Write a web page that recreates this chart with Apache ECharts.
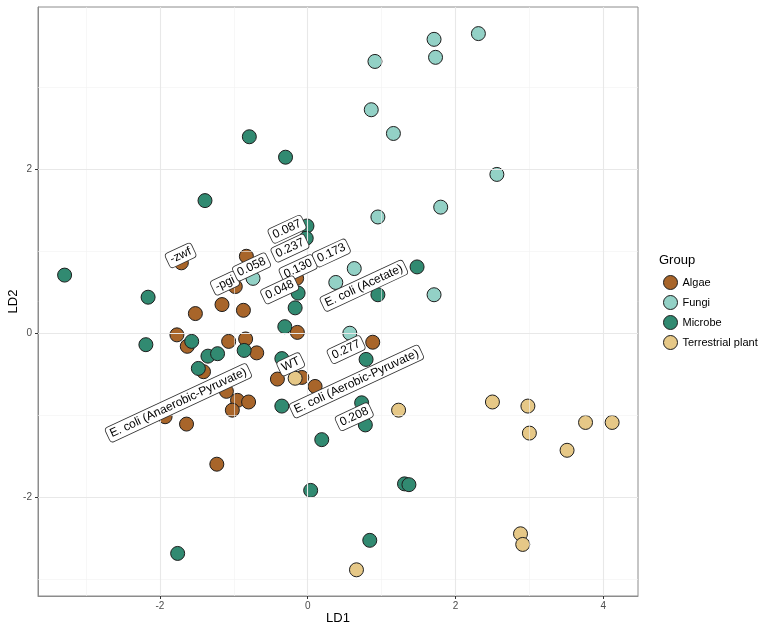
<!DOCTYPE html>
<html lang="en">
<head>
    <meta charset="UTF-8">
    <title>LDA</title>
    <script src="https://cdn.jsdelivr.net/npm/echarts@6/dist/echarts.min.js"></script>
    <style>
        html, body { margin: 0; padding: 0; background: #fff; }
    </style>
</head>
<body>
    <div id="app" style="width: 766px;height: 633px;"></div>
    <script>
        // axis ranges and ticks
        const xMin = -3.65, xMax = 4.47;
        const yMin = -3.21, yMax = 3.985;
        const xTicks = [-2, 0, 2, 4];
        const yTicks = [-2, 0, 2];
        const xMinor = [-3, -1, 1, 3];
        const yMinor = [-3, -1, 1, 3];

        // points per group [LD1, LD2]
        const algae = [
            [-1.71, 0.86], [-0.83, 0.94], [-0.98, 0.57], [-0.15, 0.67], [-1.16, 0.35],
            [-0.87, 0.28], [-1.52, 0.24], [-0.14, 0.01], [-1.77, -0.02], [-1.63, -0.16],
            [-1.07, -0.10], [-0.84, -0.07], [-0.69, -0.24], [-1.41, -0.47], [-0.41, -0.56],
            [-0.08, -0.54], [0.10, -0.65], [-1.10, -0.71], [-0.95, -0.82], [-0.80, -0.84],
            [-1.02, -0.94], [-1.93, -1.02], [-1.64, -1.11], [-1.23, -1.60], [0.88, -0.11]
        ];
        const fungi = [
            [-0.74, 0.67], [0.95, 1.42], [1.80, 1.54], [0.63, 0.79], [0.38, 0.62],
            [1.71, 0.47], [0.57, 0.00], [1.71, 3.59], [1.73, 3.37], [2.31, 3.66],
            [0.91, 3.32], [0.86, 2.73], [1.16, 2.44], [2.56, 1.94]
        ];
        const microbe = [
            [-0.30, 2.15], [-0.79, 2.40], [-1.39, 1.62], [-0.01, 1.31], [-0.02, 1.16],
            [-3.29, 0.71], [-0.13, 0.49], [-2.16, 0.44], [-0.17, 0.31], [-0.31, 0.08],
            [-2.19, -0.14], [-1.57, -0.10], [-0.86, -0.21], [-1.35, -0.28], [-1.22, -0.25],
            [-1.48, -0.43], [-0.35, -0.31], [-0.35, -0.89], [0.19, -1.30], [1.48, 0.81],
            [0.95, 0.47], [0.79, -0.32], [0.73, -0.85], [0.78, -1.12], [0.04, -1.92],
            [1.31, -1.84], [1.37, -1.85], [0.84, -2.53], [-1.76, -2.69]
        ];
        const terrestrial = [
            [-0.17, -0.55], [1.23, -0.94], [2.50, -0.84], [2.98, -0.89], [3.00, -1.22],
            [3.51, -1.43], [3.76, -1.09], [4.12, -1.09], [2.88, -2.45], [2.91, -2.58],
            [0.66, -2.89]
        ];

        // text labels
        const labelText = ['-zwf', '-pgi', '0.058', '0.087', '0.237', '0.130', '0.048', '0.173',
            'E. coli (Acetate)', '0.277', 'WT', 'E. coli (Aerobic-Pyruvate)', '0.208',
            'E. coli (Anaerobic-Pyruvate)'];
        const labelX = [-1.72, -1.12, -0.76, -0.28, -0.24, -0.13, -0.38, 0.32, 0.76, 0.52, -0.23, 0.66, 0.63, -1.75];
        const labelY = [0.95, 0.61, 0.81, 1.27, 1.04, 0.79, 0.53, 0.98, 0.58, -0.20, -0.38, -0.59, -1.02, -0.85];

        const groups = ['Algae', 'Fungi', 'Microbe', 'Terrestrial plant'];
        const colors = ['#a8652a', '#93d1c6', '#318a71', '#e6c887'];
        const groupData = [algae, fungi, microbe, terrestrial];

        const font = "'Liberation Sans', Arial, sans-serif";

        var myChart = echarts.init(document.getElementById('app'));

        // panel grid lines, major and minor
        const gridLines = [];
        xMinor.forEach(v => gridLines.push({ xAxis: v, lineStyle: { color: '#f2f2f2', width: 0.6, type: 'solid' } }));
        yMinor.forEach(v => gridLines.push({ yAxis: v, lineStyle: { color: '#f2f2f2', width: 0.6, type: 'solid' } }));
        xTicks.forEach(v => gridLines.push({ xAxis: v, lineStyle: { color: '#e8e8e8', width: 1.1, type: 'solid' } }));
        yTicks.forEach(v => gridLines.push({ yAxis: v, lineStyle: { color: '#e8e8e8', width: 1.1, type: 'solid' } }));

        const series = [
            {
                name: 'grid',
                type: 'scatter',
                data: [],
                z: 1,
                silent: true,
                markLine: {
                    silent: true,
                    animation: false,
                    symbol: ['none', 'none'],
                    label: { show: false },
                    data: gridLines
                }
            }
        ];

        groups.forEach((g, i) => {
            series.push({
                name: g,
                type: 'scatter',
                z: 3,
                symbol: 'circle',
                symbolSize: 14,
                data: groupData[i],
                itemStyle: { color: colors[i], borderColor: '#1e1e1e', borderWidth: 1, opacity: 1 }
            });
        });

        series.push({
            name: 'labels',
            type: 'scatter',
            z: 5,
            symbolSize: 0,
            silent: true,
            itemStyle: { opacity: 1 },
            data: labelText.map((t, i) => ({ value: [labelX[i], labelY[i]], name: t })),
            label: {
                show: true,
                position: 'inside',
                rotate: 25,
                formatter: p => p.name,
                fontFamily: font,
                fontSize: 12,
                color: '#000',
                opacity: 1,
                backgroundColor: '#fff',
                borderColor: '#333',
                borderWidth: 0.8,
                borderRadius: 3,
                padding: [2, 3, 1, 3]
            }
        });

        var option = {
            backgroundColor: '#fff',
            animation: false,
            title: {
                text: 'Group',
                left: 654,
                top: 249,
                textStyle: { fontFamily: font, fontSize: 13, fontWeight: 'normal', color: '#000' }
            },
            legend: {
                data: groups,
                orient: 'vertical',
                left: 658,
                top: 270,
                itemWidth: 14,
                itemHeight: 14,
                itemGap: 5,
                icon: 'circle',
                itemStyle: { borderColor: '#1e1e1e', borderWidth: 1 },
                textStyle: { fontFamily: font, fontSize: 11, color: '#000' }
            },
            grid: {
                left: 38,
                right: 128,
                top: 7,
                bottom: 37,
                containLabel: false,
                outerBoundsMode: 'none',
                show: true,
                borderColor: '#8c8c8c',
                borderWidth: 1,
                backgroundColor: '#fff'
            },
            xAxis: {
                type: 'value',
                min: xMin,
                max: xMax,
                name: 'LD1',
                nameLocation: 'middle',
                nameGap: 16,
                nameMoveOverlap: false,
                nameTextStyle: { fontFamily: font, fontSize: 13, color: '#000' },
                splitLine: { show: false },
                axisLine: { show: true, onZero: false, lineStyle: { color: '#8c8c8c' } },
                axisTick: { show: true, customValues: xTicks, length: 3, lineStyle: { color: '#333' } },
                axisLabel: { customValues: xTicks, margin: 5, fontFamily: font, fontSize: 10, color: '#4d4d4d' }
            },
            yAxis: {
                type: 'value',
                min: yMin,
                max: yMax,
                name: 'LD2',
                nameLocation: 'middle',
                nameGap: 18,
                nameMoveOverlap: false,
                nameTextStyle: { fontFamily: font, fontSize: 13, color: '#000' },
                splitLine: { show: false },
                axisLine: { show: true, onZero: false, lineStyle: { color: '#8c8c8c' } },
                axisTick: { show: true, customValues: yTicks, length: 3, lineStyle: { color: '#333' } },
                axisLabel: { customValues: yTicks, margin: 6, fontFamily: font, fontSize: 10, color: '#4d4d4d' }
            },
            series: series
        };

        myChart.setOption(option);
    </script>
</body>
</html>
